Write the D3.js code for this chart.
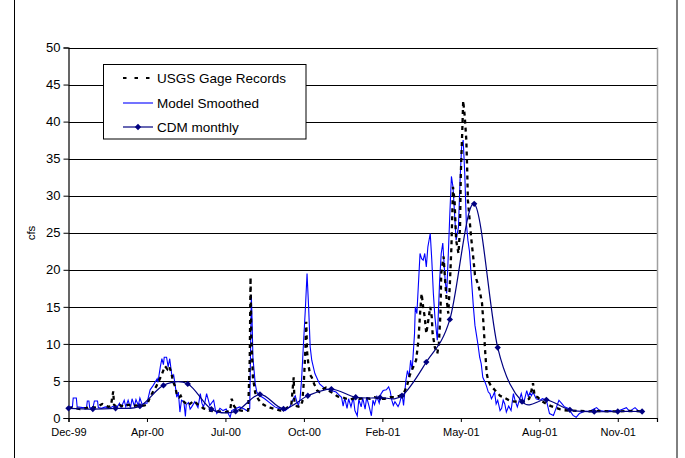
<!DOCTYPE html>
<html><head><meta charset="utf-8">
<script src="https://cdn.jsdelivr.net/npm/d3@7/dist/d3.min.js"></script>
<style>body{margin:0;background:#fff}svg{display:block}text{font-family:"Liberation Sans",Arial,sans-serif}</style>
</head><body><svg id="c" width="685" height="458"></svg>
<script>
// ---- data (days after 31 Dec 1999, flow in cfs) ----
const seriesNames = ["USGS Gage Records", "Model Smoothed", "CDM monthly"];
const tickDates = ["1999-12-31","2000-04-09","2000-07-18","2000-10-26","2001-02-03","2001-05-14","2001-08-22","2001-11-30"];
const tickLabels = ["Dec-99","Apr-00","Jul-00","Oct-00","Feb-01","May-01","Aug-01","Nov-01"];
const yTicks = [0,5,10,15,20,25,30,35,40,45,50];

const usgsDay = [0,5,10,15,21,28,33,38,43,47,51,54,57,58,62,66,71,76,81,86,91,97,100,104,108,112,116,119,123,126,128,131,133,136,138,141,143,146,149,152,156,160,164,168,172,175,180,185,191,196,201,206,208,211,215,220,225,229,231,232,233,235,238,242,247,252,257,263,270,275,280,284,287,288,291,295,298,300,302,303,304,306,308,310,313,317,320,324,328,333,338,343,349,354,359,365,371,378,384,390,397,403,410,416,422,427,431,435,439,443,446,448,450,452,454,456,459,461,463,464,467,470,472,474,475,478,480,482,484,486,488,490,492,494,497,499,500,502,503,505,507,508,509,511,513,516,518,522,524,527,529,531,533,535,538,543,550,556,563,569,575,582,587,589,592,594,598,603,609,615,620,626,632,639,651,664,677,690,702,715,728,731];
const usgsCfs = [1.3,1.4,1.3,1.2,1.3,1.5,1.4,1.6,1.9,1.7,1.5,1.6,3.6,1.8,1.4,1.7,1.5,1.8,1.6,1.7,1.6,1.7,1.8,2.8,3.6,4.3,5.2,5.9,7.0,6.6,7.0,6.2,5.0,4.2,3.2,2.8,3.0,2.3,2.0,1.7,2.0,2.3,1.9,1.6,1.3,1.2,1.0,0.9,0.9,0.85,0.8,1.0,2.6,1.6,1.1,1.0,0.9,1.0,8.0,19.0,11.0,5.5,3.4,2.5,1.9,1.6,1.4,1.2,1.0,1.1,1.5,1.8,5.5,2.0,1.6,1.5,2.2,5.0,9.5,13.0,9.0,7.0,5.8,5.5,4.6,3.7,3.5,3.9,4.1,3.6,3.3,2.9,2.8,2.6,2.5,2.7,2.6,2.7,2.6,2.8,2.6,2.6,2.8,2.8,3.0,3.3,4.2,5.8,6.8,7.8,10.5,14.0,16.8,15.0,13.6,11.4,13.5,15.0,13.6,11.4,9.5,8.7,10.0,14.0,19.5,21.8,18.5,15.9,14.1,18.0,23.1,31.2,29.4,24.0,22.2,25.8,33.0,39.3,42.8,40.7,37.5,33.9,29.4,27.0,24.5,21.5,19.3,18.0,17.2,15.5,12.5,9.0,6.0,5.0,4.4,3.8,3.0,2.7,2.3,2.2,2.3,2.2,2.6,3.2,4.7,3.0,2.8,2.3,1.9,1.6,1.4,1.2,1.05,1.0,0.95,0.9,0.95,0.9,0.9,0.95,0.9,0.9];

const modelDay = [0,2,5,6,10,11,18,23,24,26,27,31,33,37,38,42,47,52,57,61,65,67,71,73,76,79,81,84,86,89,91,94,97,100,104,108,113,114,117,119,121,122,125,127,129,132,134,136,138,140,142,144,147,149,150,153,155,157,161,165,168,170,172,174,176,178,180,185,187,189,193,197,201,203,206,208,212,218,224,227,231,232,233,234,235,238,240,244,250,257,263,270,276,282,286,289,291,293,295,297,299,302,304,306,308,310,314,320,327,335,341,345,348,350,352,355,357,360,363,365,368,370,373,375,378,380,383,386,388,390,393,396,398,401,405,408,410,412,414,416,420,422,425,427,430,432,434,436,438,441,442,444,448,450,452,454,456,458,461,463,465,467,470,473,475,477,480,482,484,486,488,490,492,494,497,499,501,503,505,507,509,511,513,516,518,522,524,526,528,531,533,535,537,539,541,543,545,547,550,552,554,556,558,561,564,567,569,572,574,577,580,584,586,588,590,592,596,601,604,609,613,618,622,625,629,632,637,643,647,651,658,664,673,677,683,690,696,702,711,715,722,727,731];
const modelCfs = [1.4,1.5,1.5,2.7,2.7,1.5,1.4,1.4,2.3,2.3,1.4,1.3,2.3,2.3,1.4,1.3,1.5,1.3,1.6,1.3,2.0,1.4,2.4,1.5,2.4,1.4,2.6,1.6,2.5,1.7,2.7,1.8,2.0,2.0,3.8,4.4,5.3,4.8,6.9,8.0,7.2,8.2,8.2,6.9,8.0,5.5,5.8,4.4,2.8,3.5,0.8,2.4,2.2,0.2,1.8,2.1,1.2,1.5,2.2,1.4,3.3,2.0,1.5,2.2,3.3,2.5,1.7,2.4,1.2,0.6,1.3,1.0,1.2,0.7,0.1,1.0,1.2,1.5,1.2,1.0,1.3,9.0,16.6,13.0,8.2,4.6,3.5,3.0,2.6,2.0,1.5,1.2,1.0,1.5,2.5,3.0,2.2,1.7,2.5,5.1,9.1,15.0,19.5,15.0,9.6,7.8,6.0,4.6,3.95,3.7,3.5,3.1,2.8,1.6,2.7,1.3,2.6,1.5,2.8,1.0,0.3,2.5,1.5,2.7,1.2,2.8,1.6,0.3,2.4,1.8,2.9,2.0,3.2,3.7,3.8,4.2,3.6,2.4,1.7,2.2,1.55,2.0,3.3,1.7,5.1,6.4,5.5,7.8,6.5,11.4,15.0,14.1,22.2,21.5,21.3,22.2,20.4,23.1,24.9,21.3,16.8,13.6,10.5,18.6,22.2,23.6,18.6,16.8,22.0,27.6,32.6,31.2,27.6,24.0,25.8,32.1,36.6,37.5,33.0,26.3,24.0,22.5,19.5,15.0,12.5,9.8,8.2,7.3,5.5,4.8,4.2,3.5,3.3,2.6,3.0,3.5,1.9,2.4,1.0,1.3,2.4,1.9,0.8,1.6,1.0,3.3,2.4,1.5,2.2,3.3,2.0,3.7,2.9,3.4,3.0,3.5,2.6,2.4,2.6,2.4,0.6,0.35,1.5,2.4,1.9,1.5,1.3,0.35,0.1,0.6,0.9,0.9,1.4,1.0,0.9,1.0,0.85,1.0,1.4,0.9,1.4,0.9,1.0];

const cdmDay = [0,31,60,91,121,152,182,213,244,274,305,335,366,397,425,456,486,517,547,578,609,639,670,700,731];
const cdmCfs = [1.3,1.2,1.3,1.6,4.4,4.6,1.2,0.9,3.2,1.24,3.0,3.9,2.8,2.75,3.0,7.55,13.3,28.9,9.5,2.2,2.45,1.1,0.85,0.88,0.88];

// ---- layout ----
const svg = d3.select("#c");
const base = new Date(1999, 11, 31);
const toDate = d => new Date(base.getTime() + d * 864e5);
const L = 68.5, R = 657, T = 47.5, B = 418;
const x = d3.scaleTime().domain([base, toDate(750)]).range([L, R]);
const y = d3.scaleLinear().domain([0, 50]).range([B, T]);

svg.append("rect").attr("x",14.5).attr("y",-3).attr("width",662.5).attr("height",480).attr("fill","#fff").attr("stroke","#000").attr("stroke-width",1);

// gridlines
svg.append("g").selectAll("line").data(yTicks.filter(v=>v>0)).join("line")
  .attr("x1",L).attr("x2",R).attr("y1",d=>Math.round(y(d))+0.5).attr("y2",d=>Math.round(y(d))+0.5)
  .attr("stroke","#000").attr("stroke-width",1);
// plot right border
svg.append("line").attr("x1",R+0.5).attr("x2",R+0.5).attr("y1",T).attr("y2",B).attr("stroke","#a0a0a0").attr("stroke-width",1.5);

// axes
const yAxis = d3.axisLeft(y).tickValues(yTicks).tickSize(5).tickPadding(3);
const gy = svg.append("g").attr("transform",`translate(${L},0)`).call(yAxis);
const xAxis = d3.axisBottom(x).tickValues(tickDates.map(s=>d3.timeParse("%Y-%m-%d")(s)))
  .tickFormat((d,i)=>tickLabels[i]).tickSize(4).tickPadding(6);
const gx = svg.append("g").attr("transform",`translate(0,${B})`).call(xAxis);
[gx,gy].forEach(g=>{g.select(".domain").attr("stroke","#000").attr("stroke-width",1.2);
  g.selectAll(".tick line").attr("stroke","#000");
  g.selectAll("text").attr("fill","#000").style("font-family","'Liberation Sans',Arial,sans-serif");});
gx.selectAll("text").style("font-size","11px");
gy.selectAll("text").style("font-size","13px");

svg.append("text").attr("transform","translate(35,233) rotate(-90)").attr("text-anchor","middle")
  .style("font-size","11.5px").text("cfs");

// series
const line = (days, vals, curve) => d3.line().x((d,i)=>x(toDate(days[i]))).y((d,i)=>y(vals[i])).curve(curve)(vals);
svg.append("path").attr("d",line(modelDay,modelCfs,d3.curveLinear)).attr("fill","none").attr("stroke","#0000ff").attr("stroke-width",1.1);
svg.append("path").attr("d",line(usgsDay,usgsCfs,d3.curveLinear)).attr("fill","none").attr("stroke","#000").attr("stroke-width",2.3).attr("stroke-dasharray","4,4");
svg.append("path").attr("d",line(cdmDay,cdmCfs,d3.curveCardinal.tension(0))).attr("fill","none").attr("stroke","#000080").attr("stroke-width",1.2);
const diamond = d3.symbol().type(d3.symbolSquare).size(20);
svg.append("g").selectAll("path").data(cdmCfs).join("path").attr("d",diamond)
  .attr("transform",(d,i)=>`translate(${x(toDate(cdmDay[i]))},${y(d)}) rotate(45)`).attr("fill","#000080");

// legend
const lg = svg.append("g");
lg.append("rect").attr("x",103.5).attr("y",64.5).attr("width",202.5).attr("height",74.5).attr("fill","#fff").attr("stroke","#000");
const rows = [78,103,127];
lg.append("line").attr("x1",123).attr("x2",153).attr("y1",rows[0]).attr("y2",rows[0]).attr("stroke","#000").attr("stroke-width",2.2).attr("stroke-dasharray","3.5,8").attr("stroke-dashoffset",0);
lg.append("line").attr("x1",123).attr("x2",153).attr("y1",rows[1]).attr("y2",rows[1]).attr("stroke","#0000ff").attr("stroke-width",1.1);
lg.append("line").attr("x1",123).attr("x2",153).attr("y1",rows[2]).attr("y2",rows[2]).attr("stroke","#000080").attr("stroke-width",1.2);
lg.append("path").attr("d",diamond).attr("transform",`translate(138,${rows[2]}) rotate(45)`).attr("fill","#000080");
lg.selectAll("text").data(seriesNames).join("text").attr("x",157).attr("y",(d,i)=>rows[i]+5)
  .style("font-size","13.5px").text(d=>d);
</script></body></html>
